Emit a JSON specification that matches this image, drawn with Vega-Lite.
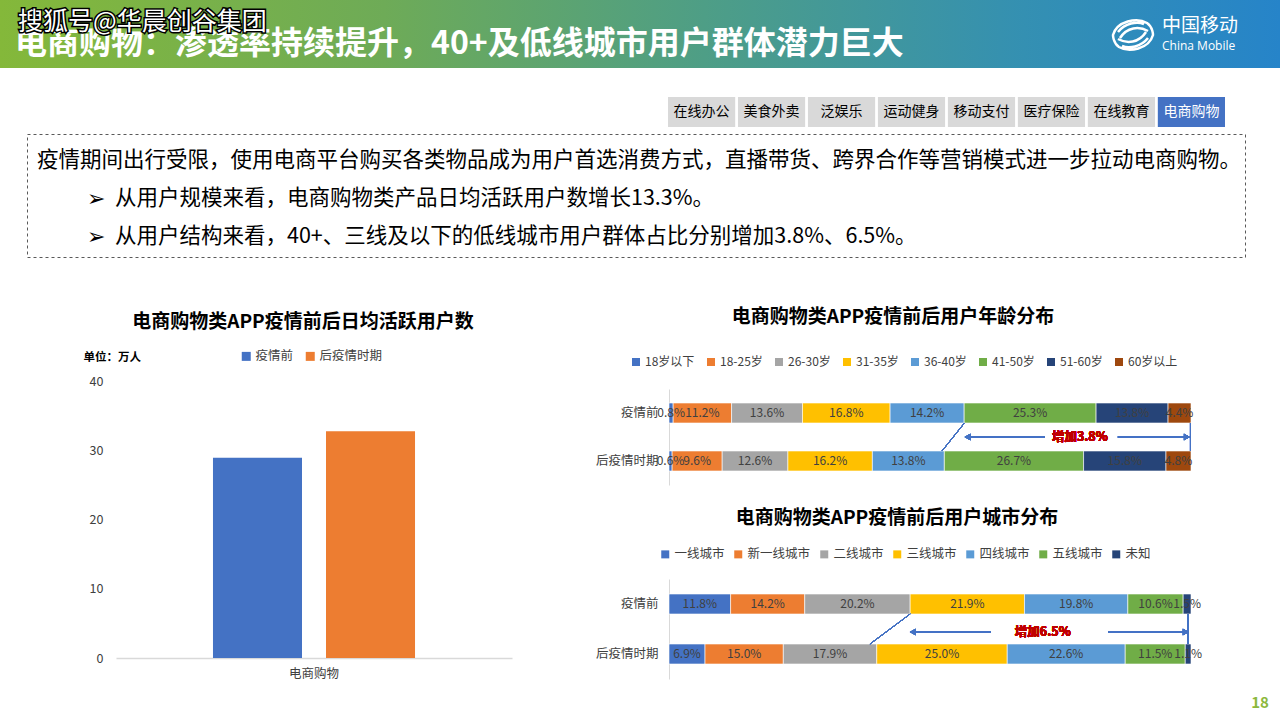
{
  "$schema": "https://vega.github.io/schema/vega-lite/v6.json",
  "background": "#FFFFFF",
  "padding": 0,
  "autosize": {"type": "pad"},
  "config": {
    "font": "Noto Sans CJK SC",
    "view": {"stroke": null},
    "concat": {"spacing": 0},
    "axis": {"labelFont": "Noto Sans CJK SC", "titleFont": "Noto Sans CJK SC"},
    "legend": {"labelFont": "Noto Sans CJK SC", "padding": 0},
    "title": {"font": "Noto Sans CJK SC"}
  },
  "datasets": {
    "tabs": [
      {"tab": "在线办公"}, {"tab": "美食外卖"}, {"tab": "泛娱乐"}, {"tab": "运动健身"},
      {"tab": "移动支付"}, {"tab": "医疗保险"}, {"tab": "在线教育"}, {"tab": "电商购物"}
    ],
    "notes": [
      {"line": 1, "kind": "段落", "text": "疫情期间出行受限，使用电商平台购买各类物品成为用户首选消费方式，直播带货、跨界合作等营销模式进一步拉动电商购物。"},
      {"line": 2, "kind": "要点", "text": "从用户规模来看，电商购物类产品日均活跃用户数增长13.3%。"},
      {"line": 3, "kind": "要点", "text": "从用户结构来看，40+、三线及以下的低线城市用户群体占比分别增加3.8%、6.5%。"}
    ],
    "dau": [
      {"category": "电商购物", "period": "疫情前", "users": 28.9},
      {"category": "电商购物", "period": "后疫情时期", "users": 32.75}
    ],
    "age": [
      {"period": "疫情前", "group": "18岁以下", "idx": 1, "share": 0.008},
      {"period": "疫情前", "group": "18-25岁", "idx": 2, "share": 0.112},
      {"period": "疫情前", "group": "26-30岁", "idx": 3, "share": 0.136},
      {"period": "疫情前", "group": "31-35岁", "idx": 4, "share": 0.168},
      {"period": "疫情前", "group": "36-40岁", "idx": 5, "share": 0.142},
      {"period": "疫情前", "group": "41-50岁", "idx": 6, "share": 0.253},
      {"period": "疫情前", "group": "51-60岁", "idx": 7, "share": 0.138},
      {"period": "疫情前", "group": "60岁以上", "idx": 8, "share": 0.044},
      {"period": "后疫情时期", "group": "18岁以下", "idx": 1, "share": 0.006},
      {"period": "后疫情时期", "group": "18-25岁", "idx": 2, "share": 0.096},
      {"period": "后疫情时期", "group": "26-30岁", "idx": 3, "share": 0.126},
      {"period": "后疫情时期", "group": "31-35岁", "idx": 4, "share": 0.162},
      {"period": "后疫情时期", "group": "36-40岁", "idx": 5, "share": 0.138},
      {"period": "后疫情时期", "group": "41-50岁", "idx": 6, "share": 0.267},
      {"period": "后疫情时期", "group": "51-60岁", "idx": 7, "share": 0.158},
      {"period": "后疫情时期", "group": "60岁以上", "idx": 8, "share": 0.048}
    ],
    "city": [
      {"period": "疫情前", "tier": "一线城市", "idx": 1, "share": 0.118},
      {"period": "疫情前", "tier": "新一线城市", "idx": 2, "share": 0.142},
      {"period": "疫情前", "tier": "二线城市", "idx": 3, "share": 0.202},
      {"period": "疫情前", "tier": "三线城市", "idx": 4, "share": 0.219},
      {"period": "疫情前", "tier": "四线城市", "idx": 5, "share": 0.198},
      {"period": "疫情前", "tier": "五线城市", "idx": 6, "share": 0.106},
      {"period": "疫情前", "tier": "未知", "idx": 7, "share": 0.015},
      {"period": "后疫情时期", "tier": "一线城市", "idx": 1, "share": 0.069},
      {"period": "后疫情时期", "tier": "新一线城市", "idx": 2, "share": 0.150},
      {"period": "后疫情时期", "tier": "二线城市", "idx": 3, "share": 0.179},
      {"period": "后疫情时期", "tier": "三线城市", "idx": 4, "share": 0.250},
      {"period": "后疫情时期", "tier": "四线城市", "idx": 5, "share": 0.226},
      {"period": "后疫情时期", "tier": "五线城市", "idx": 6, "share": 0.115},
      {"period": "后疫情时期", "tier": "未知", "idx": 7, "share": 0.011}
    ]
  },
  "spacing": 0,
  "bounds": "full",
  "align": "each",
  "resolve": {"scale": {"x": "independent", "y": "independent", "color": "independent", "xOffset": "independent"}, "legend": {"color": "independent"}, "axis": {"x": "independent", "y": "independent"}},
  "vconcat": [
    {
      "width": 1280,
      "height": 68,
      "view": {"stroke": null, "fill": {"gradient": "linear", "x1": 0, "y1": 0, "x2": 1, "y2": 0, "stops": [
        {"offset": 0, "color": "#84B83A"},
        {"offset": 0.3, "color": "#6EAB57"},
        {"offset": 0.55, "color": "#4E9E86"},
        {"offset": 0.8, "color": "#3490B2"},
        {"offset": 1, "color": "#2684C9"}
      ]}},
      "layer": [
        {
          "data": {"values": [{"label": "电商购物：渗透率持续提升，40+及低线城市用户群体潜力巨大"}]},
          "mark": {"type": "text", "x": 15, "y": 44, "align": "left", "baseline": "middle", "fontSize": 32, "fontWeight": "bold", "color": "#FFFFFF"},
          "encoding": {"text": {"field": "label"}}
        },
        {
          "data": {"values": [{"label": "搜狐号@华晨创谷集团"}]},
          "mark": {"type": "text", "x": 18, "y": 22, "align": "left", "baseline": "middle", "fontSize": 25, "color": "#000000", "stroke": "#000000", "strokeWidth": 3},
          "encoding": {"text": {"field": "label"}}
        },
        {
          "data": {"values": [{"label": "搜狐号@华晨创谷集团"}]},
          "mark": {"type": "text", "x": 18, "y": 22, "align": "left", "baseline": "middle", "fontSize": 25, "color": "#FFFFFF"},
          "encoding": {"text": {"field": "label"}}
        },
        {
          "data": {"values": [{"brand": "中国移动"}]},
          "mark": {"type": "point", "x": 1133, "y": 35, "size": 1600, "filled": false, "stroke": "#FFFFFF", "strokeWidth": 2.5, "opacity": 1,
            "shape": "M -1 0 C -0.8 -0.7 0.2 -0.9 0.7 -0.6 C 1 -0.4 1 0 1 0 C 0.8 0.7 -0.2 0.9 -0.7 0.6 C -1 0.4 -1 0 -1 0 Z M -0.65 0.15 C -0.3 -0.4 0.3 -0.45 0.75 -0.2 M -0.75 -0.15 C -0.4 -0.6 0.2 -0.7 0.55 -0.55 M 0.65 -0.15 C 0.3 0.4 -0.3 0.45 -0.75 0.2 M 0.75 0.15 C 0.4 0.6 -0.2 0.7 -0.55 0.55"},
          "encoding": {}
        },
        {
          "data": {"values": [{"label": "中国移动"}]},
          "mark": {"type": "text", "x": 1162, "y": 26, "align": "left", "baseline": "middle", "fontSize": 19, "color": "#FFFFFF"},
          "encoding": {"text": {"field": "label"}}
        },
        {
          "data": {"values": [{"label": "China Mobile"}]},
          "mark": {"type": "text", "x": 1162, "y": 46, "align": "left", "baseline": "middle", "fontSize": 12, "color": "#FFFFFF", "font": "Open Sans"},
          "encoding": {"text": {"field": "label"}}
        }
      ]
    },
    {"width": 1280, "height": 29, "data": {"values": []}, "mark": "point"},
    {
      "spacing": 0, "bounds": "flush", "align": "each",
      "hconcat": [
        {"width": 668, "height": 30, "data": {"values": []}, "mark": "point"},
        {
          "width": 557,
          "height": 30,
          "data": {"name": "tabs"},
          "encoding": {"x": {"field": "tab", "type": "nominal", "sort": null, "axis": null, "scale": {"paddingInner": 0.04, "paddingOuter": 0}}},
          "layer": [
            {"mark": {"type": "bar"}, "encoding": {"color": {"condition": {"test": "datum.tab === '电商购物'", "value": "#4472C4"}, "value": "#D9D9D9"}}},
            {"mark": {"type": "text", "fontSize": 14, "baseline": "middle"}, "encoding": {"text": {"field": "tab"}, "color": {"condition": {"test": "datum.tab === '电商购物'", "value": "#FFFFFF"}, "value": "#000000"}}}
          ]
        }
      ]
    },
    {"width": 1280, "height": 6, "data": {"values": []}, "mark": "point"},
    {
      "spacing": 0, "bounds": "flush", "align": "each",
      "hconcat": [
        {"width": 27, "height": 123, "data": {"values": []}, "mark": "point"},
        {
          "width": 1218,
          "height": 123,
          "view": {"stroke": "#595959", "strokeDash": [3, 3], "strokeWidth": 1},
          "data": {"name": "notes"},
          "encoding": {
            "x": {"field": "kind", "type": "nominal", "axis": null, "scale": {"type": "point", "domain": ["段落", "要点"], "range": [10, 88], "padding": 0}},
            "y": {"field": "line", "type": "ordinal", "axis": null, "scale": {"type": "point", "range": [27, 103], "padding": 0}}
          },
          "layer": [
            {"mark": {"type": "text", "align": "left", "baseline": "middle", "fontSize": 21.5, "color": "#000000"}, "encoding": {"text": {"field": "text"}}},
            {"transform": [{"filter": "datum.kind === '要点'"}], "mark": {"type": "text", "align": "left", "baseline": "middle", "dx": -28, "fontSize": 22, "font": "DejaVu Sans", "color": "#000000", "text": "➢"}}
          ]
        }
      ]
    },
    {
      "spacing": 0, "bounds": "full", "align": "each",
      "resolve": {"scale": {"x": "independent", "y": "independent", "color": "independent", "xOffset": "independent"}, "legend": {"color": "independent"}, "axis": {"x": "independent", "y": "independent"}},
      "hconcat": [
        {
          "spacing": 0, "bounds": "full", "align": "each",
          "resolve": {"scale": {"x": "independent", "y": "independent", "color": "independent", "xOffset": "independent"}, "legend": {"color": "independent"}, "axis": {"x": "independent", "y": "independent"}},
          "vconcat": [
            {"width": 560, "height": 55, "data": {"values": []}, "mark": "point"},
            {
              "spacing": 0, "bounds": "flush", "align": "each",
              "resolve": {"scale": {"x": "independent", "y": "independent", "color": "independent", "xOffset": "independent"}, "legend": {"color": "independent"}, "axis": {"x": "independent", "y": "independent"}},
              "hconcat": [
                {"width": 116, "height": 277, "data": {"values": []}, "mark": "point"},
                {
                  "width": 396,
                  "height": 277,
                  "data": {"name": "dau"},
                  "title": {"text": "电商购物类APP疫情前后日均活跃用户数", "fontSize": 19, "fontWeight": "bold", "color": "#000000", "anchor": "middle", "frame": "group", "dx": -11, "offset": 18},
                  "mark": {"type": "bar"},
                  "encoding": {
                    "x": {"field": "category", "type": "nominal", "scale": {"paddingInner": 0, "paddingOuter": 0.48}, "axis": {"title": null, "labelAngle": 0, "ticks": false, "domainColor": "#D9D9D9", "domainWidth": 1.5, "labelFontSize": 12.5, "labelColor": "#404040", "labelPadding": 9}},
                    "xOffset": {"field": "period", "type": "nominal", "sort": ["疫情前", "后疫情时期"], "scale": {"paddingInner": 0.2124, "paddingOuter": 0}},
                    "y": {"field": "users", "type": "quantitative", "scale": {"domain": [0, 40], "nice": false}, "axis": {"values": [0, 10, 20, 30, 40], "grid": false, "domain": false, "ticks": false, "labelFontSize": 12.5, "labelColor": "#404040", "labelPadding": 13, "title": "单位：万人", "titleAngle": 0, "titleAlign": "left", "titleBaseline": "middle", "titleX": -33, "titleY": -24, "titleFontSize": 11.5, "titleFontWeight": "bold", "titleColor": "#000000"}},
                    "color": {"field": "period", "type": "nominal", "scale": {"domain": ["疫情前", "后疫情时期"], "range": ["#4472C4", "#ED7D31"]}, "legend": {"title": null, "orient": "none", "legendX": 124, "legendY": -31, "direction": "horizontal", "columns": 2, "symbolType": "square", "symbolSize": 81, "symbolStrokeWidth": 0, "labelFontSize": 12.5, "labelColor": "#404040", "columnPadding": 10, "labelOffset": 3}}
                  }
                },
                {"width": 48, "height": 277, "data": {"values": []}, "mark": "point"}
              ]
            }
          ]
        },
        {
          "spacing": 0, "bounds": "full", "align": "each",
          "resolve": {"scale": {"x": "independent", "y": "independent", "color": "independent", "xOffset": "independent"}, "legend": {"color": "independent"}, "axis": {"x": "independent", "y": "independent"}},
          "vconcat": [
            {"width": 720, "height": 50, "data": {"values": []}, "mark": "point"},
            {
              "spacing": 0, "bounds": "flush", "align": "each",
              "resolve": {"scale": {"x": "independent", "y": "independent", "color": "independent"}, "legend": {"color": "independent"}, "axis": {"x": "independent", "y": "independent"}},
              "hconcat": [
                {"width": 109, "height": 96, "data": {"values": []}, "mark": "point"},
                {
                  "width": 522,
                  "height": 96,
                  "data": {"name": "age"},
                  "title": {"text": "电商购物类APP疫情前后用户年龄分布", "fontSize": 19, "fontWeight": "bold", "color": "#000000", "anchor": "middle", "frame": "group", "dx": -37, "offset": 29},
                  "layer": [
                    {
                      "mark": {"type": "bar", "stroke": "#FFFFFF", "strokeWidth": 0.6},
                      "encoding": {
                        "y": {"field": "period", "type": "nominal", "sort": ["疫情前", "后疫情时期"], "scale": {"paddingInner": 0.5833, "paddingOuter": 0.2917}, "axis": {"title": null, "ticks": false, "domainColor": "#D9D9D9", "labelFontSize": 12.5, "labelColor": "#404040", "labelPadding": 11}},
                        "x": {"field": "share", "type": "quantitative", "stack": "normalize", "scale": {"domain": [0, 1], "nice": false}, "axis": null},
                        "color": {"field": "group", "type": "nominal", "scale": {"domain": ["18岁以下", "18-25岁", "26-30岁", "31-35岁", "36-40岁", "41-50岁", "51-60岁", "60岁以上"], "range": ["#4472C4", "#ED7D31", "#A5A5A5", "#FFC000", "#5B9BD5", "#70AD47", "#264478", "#9E480E"]}, "legend": {"title": null, "orient": "none", "legendX": -39, "legendY": -33, "direction": "horizontal", "columns": 8, "symbolType": "square", "symbolSize": 64, "symbolStrokeWidth": 0, "labelFontSize": 12, "labelColor": "#404040", "columnPadding": 10, "labelOffset": 3}},
                        "order": {"field": "idx", "type": "quantitative"}
                      }
                    },
                    {
                      "mark": {"type": "text", "fontSize": 12, "color": "#404040"},
                      "encoding": {
                        "y": {"field": "period", "type": "nominal", "sort": ["疫情前", "后疫情时期"]},
                        "x": {"field": "share", "type": "quantitative", "stack": "normalize", "bandPosition": 0.5},
                        "detail": {"field": "group"},
                        "order": {"field": "idx", "type": "quantitative"},
                        "text": {"field": "share", "type": "quantitative", "format": ".1%"}
                      }
                    },
                    {
                      "mark": {"type": "rule", "color": "#4472C4", "strokeWidth": 1},
                      "encoding": {"x": {"datum": 0.566, "type": "quantitative"}, "x2": {"datum": 0.523}, "y": {"datum": "疫情前", "type": "nominal", "bandPosition": 1}, "y2": {"datum": "后疫情时期", "bandPosition": 0}}
                    },
                    {
                      "mark": {"type": "rule", "color": "#4472C4", "strokeWidth": 1},
                      "encoding": {"x": {"datum": 0.999, "type": "quantitative"}, "y": {"datum": "疫情前", "type": "nominal", "bandPosition": 1}, "y2": {"datum": "后疫情时期", "bandPosition": 0}}
                    },
                    {
                      "mark": {"type": "rule", "color": "#4472C4", "strokeWidth": 1.5},
                      "encoding": {"x": {"datum": 0.57, "type": "quantitative"}, "x2": {"datum": 0.72}, "y": {"datum": "疫情前", "type": "nominal", "bandPosition": 1.7}}
                    },
                    {
                      "mark": {"type": "rule", "color": "#4472C4", "strokeWidth": 1.5},
                      "encoding": {"x": {"datum": 0.86, "type": "quantitative"}, "x2": {"datum": 0.993}, "y": {"datum": "疫情前", "type": "nominal", "bandPosition": 1.7}}
                    },
                    {
                      "mark": {"type": "point", "shape": "triangle-left", "filled": true, "color": "#4472C4", "size": 45, "opacity": 1},
                      "encoding": {"x": {"datum": 0.572, "type": "quantitative"}, "y": {"datum": "疫情前", "type": "nominal", "bandPosition": 1.7}}
                    },
                    {
                      "mark": {"type": "point", "shape": "triangle-right", "filled": true, "color": "#4472C4", "size": 45, "opacity": 1},
                      "encoding": {"x": {"datum": 0.992, "type": "quantitative"}, "y": {"datum": "疫情前", "type": "nominal", "bandPosition": 1.7}}
                    },
                    {
                      "mark": {"type": "text", "color": "#C00000", "fontWeight": "bold", "fontSize": 12.5, "text": "增加3.8%"},
                      "encoding": {"x": {"datum": 0.787, "type": "quantitative"}, "y": {"datum": "疫情前", "type": "nominal", "bandPosition": 1.7}}
                    }
                  ]
                },
                {"width": 89, "height": 96, "data": {"values": []}, "mark": "point"}
              ]
            },
            {"width": 720, "height": 24, "data": {"values": []}, "mark": "point"},
            {
              "spacing": 0, "bounds": "flush", "align": "each",
              "resolve": {"scale": {"x": "independent", "y": "independent", "color": "independent"}, "legend": {"color": "independent"}, "axis": {"x": "independent", "y": "independent"}},
              "hconcat": [
                {"width": 109, "height": 100, "data": {"values": []}, "mark": "point"},
                {
                  "width": 522,
                  "height": 100,
                  "data": {"name": "city"},
                  "title": {"text": "电商购物类APP疫情前后用户城市分布", "fontSize": 19, "fontWeight": "bold", "color": "#000000", "anchor": "middle", "frame": "group", "dx": -33, "offset": 20},
                  "layer": [
                    {
                      "mark": {"type": "bar", "stroke": "#FFFFFF", "strokeWidth": 0.6},
                      "encoding": {
                        "y": {"field": "period", "type": "nominal", "sort": ["疫情前", "后疫情时期"], "scale": {"paddingInner": 0.6, "paddingOuter": 0.3}, "axis": {"title": null, "ticks": false, "domainColor": "#D9D9D9", "labelFontSize": 12.5, "labelColor": "#404040", "labelPadding": 11}},
                        "x": {"field": "share", "type": "quantitative", "stack": "normalize", "scale": {"domain": [0, 1], "nice": false}, "axis": null},
                        "color": {"field": "tier", "type": "nominal", "scale": {"domain": ["一线城市", "新一线城市", "二线城市", "三线城市", "四线城市", "五线城市", "未知"], "range": ["#4472C4", "#ED7D31", "#A5A5A5", "#FFC000", "#5B9BD5", "#70AD47", "#264478"]}, "legend": {"title": null, "orient": "none", "legendX": -10, "legendY": -31, "direction": "horizontal", "columns": 7, "symbolType": "square", "symbolSize": 64, "symbolStrokeWidth": 0, "labelFontSize": 12.5, "labelColor": "#404040", "columnPadding": 7, "labelOffset": 3}},
                        "order": {"field": "idx", "type": "quantitative"}
                      }
                    },
                    {
                      "mark": {"type": "text", "fontSize": 12, "color": "#404040"},
                      "encoding": {
                        "y": {"field": "period", "type": "nominal", "sort": ["疫情前", "后疫情时期"]},
                        "x": {"field": "share", "type": "quantitative", "stack": "normalize", "bandPosition": 0.5},
                        "detail": {"field": "tier"},
                        "order": {"field": "idx", "type": "quantitative"},
                        "text": {"field": "share", "type": "quantitative", "format": ".1%"}
                      }
                    },
                    {
                      "mark": {"type": "rule", "color": "#4472C4", "strokeWidth": 1},
                      "encoding": {"x": {"datum": 0.462, "type": "quantitative"}, "x2": {"datum": 0.385}, "y": {"datum": "疫情前", "type": "nominal", "bandPosition": 1}, "y2": {"datum": "后疫情时期", "bandPosition": 0}}
                    },
                    {
                      "mark": {"type": "rule", "color": "#4472C4", "strokeWidth": 1},
                      "encoding": {"x": {"datum": 0.994, "type": "quantitative"}, "y": {"datum": "疫情前", "type": "nominal", "bandPosition": 1}, "y2": {"datum": "后疫情时期", "bandPosition": 0}}
                    },
                    {
                      "mark": {"type": "rule", "color": "#4472C4", "strokeWidth": 1.5},
                      "encoding": {"x": {"datum": 0.465, "type": "quantitative"}, "x2": {"datum": 0.616}, "y": {"datum": "疫情前", "type": "nominal", "bandPosition": 1.9}}
                    },
                    {
                      "mark": {"type": "rule", "color": "#4472C4", "strokeWidth": 1.5},
                      "encoding": {"x": {"datum": 0.841, "type": "quantitative"}, "x2": {"datum": 0.99}, "y": {"datum": "疫情前", "type": "nominal", "bandPosition": 1.9}}
                    },
                    {
                      "mark": {"type": "point", "shape": "triangle-left", "filled": true, "color": "#4472C4", "size": 45, "opacity": 1},
                      "encoding": {"x": {"datum": 0.467, "type": "quantitative"}, "y": {"datum": "疫情前", "type": "nominal", "bandPosition": 1.9}}
                    },
                    {
                      "mark": {"type": "point", "shape": "triangle-right", "filled": true, "color": "#4472C4", "size": 45, "opacity": 1},
                      "encoding": {"x": {"datum": 0.99, "type": "quantitative"}, "y": {"datum": "疫情前", "type": "nominal", "bandPosition": 1.9}}
                    },
                    {
                      "mark": {"type": "text", "color": "#C00000", "fontWeight": "bold", "fontSize": 12.5, "text": "增加6.5%"},
                      "encoding": {"x": {"datum": 0.716, "type": "quantitative"}, "y": {"datum": "疫情前", "type": "nominal", "bandPosition": 1.9}}
                    }
                  ]
                },
                {"width": 89, "height": 100, "data": {"values": []}, "mark": "point"}
              ]
            },
            {
              "spacing": 0, "bounds": "flush", "align": "each",
              "hconcat": [
                {"width": 680, "height": 36, "data": {"values": []}, "mark": "point"},
                {
                  "width": 40,
                  "height": 36,
                  "data": {"values": [{"page": "18"}]},
                  "mark": {"type": "text", "fontSize": 15, "fontWeight": "bold", "color": "#8CB83C", "baseline": "middle", "dy": 6},
                  "encoding": {"text": {"field": "page"}}
                }
              ]
            }
          ]
        }
      ]
    }
  ]
}
